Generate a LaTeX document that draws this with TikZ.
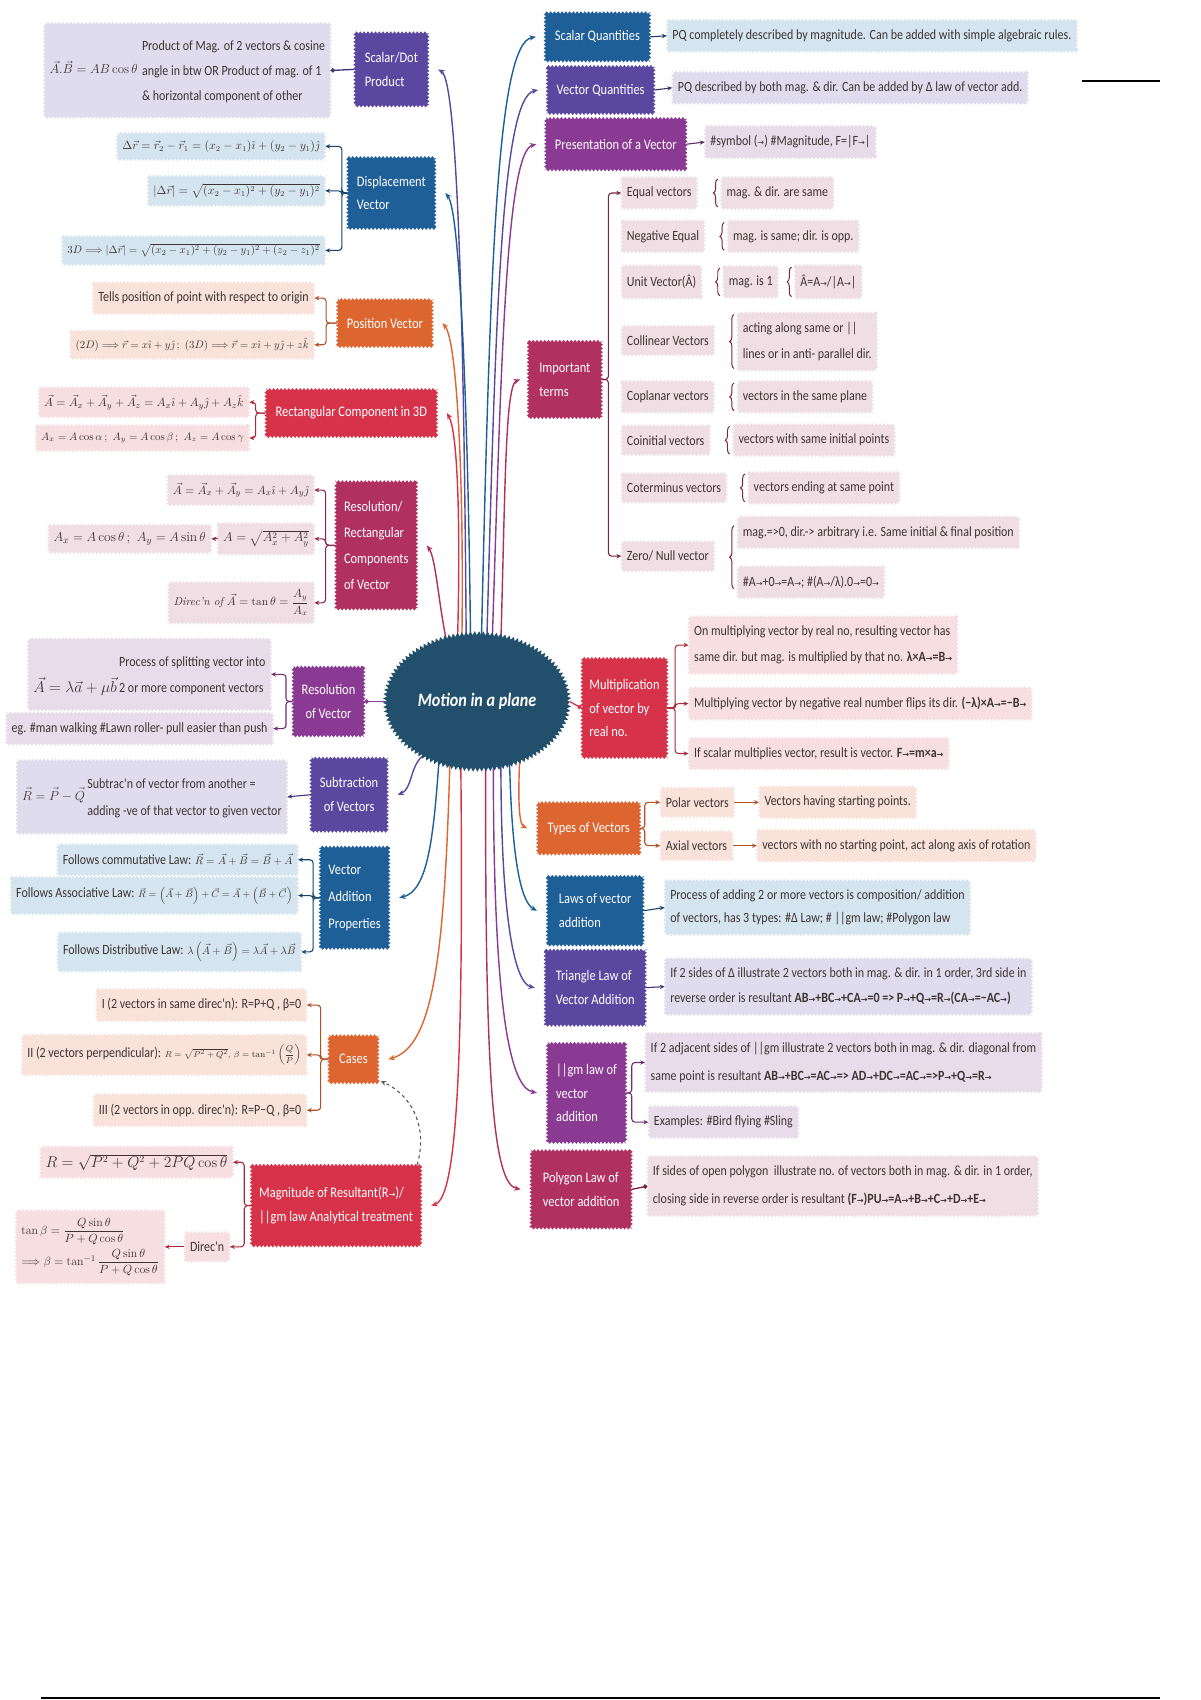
\documentclass[tikz,border=0pt]{standalone}
\usepackage{amsmath}
\usepackage{fontspec}
\usetikzlibrary{arrows.meta,decorations.pathmorphing,decorations.pathreplacing,shapes.geometric}
\newfontfamily\hand[FakeStretch=0.85]{Carlito}
\newfontfamily\symf{DejaVu Sans}
\newcommand\arr{{\symf\fontsize{7.5}{8}\selectfont\char"2192}}
\newcommand\mth[2]{{\fontsize{#1}{#1}\selectfont$#2$}}
\definecolor{cblue}{HTML}{1E5F98}
\definecolor{cindigo}{HTML}{5A48A0}
\definecolor{cpurple}{HTML}{8A3A92}
\definecolor{cmagenta}{HTML}{B03060}
\definecolor{cred}{HTML}{D6334A}
\definecolor{corange}{HTML}{DC6530}
\definecolor{ccenter}{HTML}{22506C}
\definecolor{lblue}{HTML}{D5E5F0}
\definecolor{lindigo}{HTML}{DFDDED}
\definecolor{lpurple}{HTML}{E9DCEA}
\definecolor{lmagenta}{HTML}{F0DEE5}
\definecolor{lred}{HTML}{F7DEE1}
\definecolor{lorange}{HTML}{F8E2D9}
\definecolor{txt}{HTML}{3E3434}
\pgfdeclarelayer{bg}
\pgfsetlayers{bg,main}
\tikzset{
  jag/.style={decorate,decoration={zigzag,segment length=3.5pt,amplitude=1.1pt}},
  hub/.style={ellipse,fill=ccenter,text=white,minimum width=170pt,minimum height=126pt,inner sep=0pt,decorate,decoration={zigzag,segment length=4pt,amplitude=1.8pt},font=\hand\bfseries\itshape\fontsize{17.5}{20}\selectfont},
  box/.style={jag,fill=#1,text=white,inner xsep=5pt,inner ysep=6pt,align=left,font=\hand\fontsize{13.5}{22}\selectfont},
  leaf/.style={jag,fill=#1,text=txt,inner xsep=5pt,inner ysep=9pt,align=left,font=\hand\fontsize{13}{24}\selectfont},
  fleaf/.style={leaf=#1,inner ysep=7pt,font=\fontsize{10.5}{13}\selectfont},
  hl/.style={draw=#1,line width=1.3pt,-{Stealth[length=6pt,width=5pt]}},
  bk/.style={draw=#1,line width=1pt,rounded corners=3pt,-{Stealth[length=4.5pt,width=4pt]}},
  dk/.style={draw=#1,line width=1.2pt,-{Circle[length=4pt]}},
  brc/.style={draw=#1,line width=0.9pt,decorate,decoration={brace,amplitude=4pt}},
}
\begin{document}
\begin{tikzpicture}[x=1pt,y=-1pt]
\useasboundingbox (0,0) rectangle (1107,1568);
\begin{pgfonlayer}{bg}
\fill[white] (0,0) rectangle (1107,1568);
\end{pgfonlayer}

% ---------- hub ----------
\node[hub] (c) at (440,647) {Motion in a plane};

% ---------- left side ----------
\node[box=cindigo,minimum width=68pt,minimum height=68pt] (sd) at (361,64) {Scalar/Dot\\Product};
\node[leaf=lindigo,anchor=east,minimum height=78pt] (sdl) at (305,65) {\mth{12}{\vec A.\vec B=AB\cos\theta}\hspace{4pt}{\fontsize{13}{23}\selectfont\begin{tabular}{@{}l@{}}Product of Mag. of 2 vectors \& cosine\\angle in btw OR Product of mag. of 1\\\& horizontal component of other\end{tabular}}};

\node[box=cblue,minimum width=81pt,minimum height=66pt] (dv) at (361,178) {Displacement\\Vector};
\node[fleaf=lblue,anchor=east] (d1) at (300,135) {$\Delta\vec r=\vec r_2-\vec r_1=(x_2-x_1)\hat\imath+(y_2-y_1)\hat\jmath$};
\node[fleaf=lblue,anchor=east] (d2) at (300,176) {$\left|\Delta\vec r\right|=\sqrt{(x_2-x_1)^2+(y_2-y_1)^2}$};
\node[fleaf=lblue,anchor=east,font=\fontsize{10}{12}\selectfont] (d3) at (300,231) {$3D\Longrightarrow\left|\Delta\vec r\right|=\sqrt{(x_2-x_1)^2+(y_2-y_1)^2+(z_2-z_1)^2}$};

\node[box=corange,minimum width=88pt,minimum height=44pt] (pv) at (355,298) {Position Vector};
\node[leaf=lorange,anchor=east] (p1) at (290,275) {Tells position of point with respect to origin};
\node[fleaf=lorange,anchor=east,font=\fontsize{10}{12}\selectfont] (p2) at (290,318) {$(2D)\Longrightarrow\vec r=x\hat\imath+y\hat\jmath\,;\ (3D)\Longrightarrow\vec r=x\hat\imath+y\hat\jmath+z\hat k$};

\node[box=cred,minimum width=158pt,minimum height=44pt] (r3) at (324,381) {Rectangular Component in 3D};
\node[fleaf=lred,anchor=east,font=\fontsize{11}{13}\selectfont] (r1) at (230,371) {$\vec A=\vec A_x+\vec A_y+\vec A_z=A_x\hat\imath+A_y\hat\jmath+A_z\hat k$};
\node[fleaf=lred,anchor=east,font=\fontsize{10}{12}\selectfont] (r2) at (230,404) {$A_x=A\cos\alpha\,;\ A_y=A\cos\beta\,;\ A_z=A\cos\gamma$};

\node[box=cmagenta,minimum width=75pt,minimum height=118pt,font=\hand\fontsize{13.5}{24}\selectfont] (rr) at (347,503) {Resolution/\\Rectangular\\Components\\of Vector};
\node[fleaf=lmagenta,anchor=east,font=\fontsize{11}{13}\selectfont] (rc1) at (290,452) {$\vec A=\vec A_x+\vec A_y=A_x\hat\imath+A_y\hat\jmath$};
\node[fleaf=lmagenta,anchor=east,font=\fontsize{11.5}{13}\selectfont] (rc2) at (290,497) {$A=\sqrt{A_x^2+A_y^2}$};
\node[fleaf=lmagenta,anchor=east,font=\fontsize{12.5}{15}\selectfont] (rc0) at (195,497) {$A_x=A\cos\theta\,;\ A_y=A\sin\theta$};
\node[fleaf=lmagenta,anchor=east] (rc3) at (290,556) {{\itshape Direc'n of} $\vec A=\tan\theta=\dfrac{A_y}{A_x}$};

\node[box=cpurple,minimum width=66pt,minimum height=64pt,align=center] (rv) at (303,647) {Resolution\\of Vector};
\node[leaf=lpurple,anchor=east] (rv1) at (250,622) {\mth{14}{\vec A=\lambda\vec a+\mu\vec b}\,{\fontsize{13}{24}\selectfont\begin{tabular}[b]{@{}l@{}}Process of splitting vector into\\2 or more component vectors\end{tabular}}};
\node[leaf=lpurple,anchor=east] (rv2) at (252,672) {eg. \#man walking \#Lawn roller- pull easier than push};

\node[box=cindigo,minimum width=71pt,minimum height=68pt,align=center] (sb) at (322,733) {Subtraction\\of Vectors};
\node[leaf=lindigo,anchor=east] (sbl) at (265,735) {\mth{12}{\vec R=\vec P-\vec Q}\,{\fontsize{13}{25}\selectfont\begin{tabular}{@{}l@{}}Subtrac'n of vector from another =\\adding -ve of that vector to given vector\end{tabular}}};

\node[box=cblue,minimum width=64pt,minimum height=94pt,font=\hand\fontsize{13.5}{25}\selectfont] (vap) at (327,828) {Vector\\Addition\\Properties};
\node[leaf=lblue,anchor=east] (v1) at (275,793) {Follows commutative Law: \mth{10}{\vec R=\vec A+\vec B=\vec B+\vec A}};
\node[leaf=lblue,anchor=east] (v2) at (275,826) {Follows Associative Law: \mth{9}{\vec R=\left(\vec A+\vec B\right)+\vec C=\vec A+\left(\vec B+\vec C\right)}};
\node[leaf=lblue,anchor=east] (v3) at (278,878) {Follows Distributive Law: \mth{10}{\lambda\left(\vec A+\vec B\right)=\lambda\vec A+\lambda\vec B}};

\node[box=corange,minimum width=46pt,minimum height=44pt] (cs) at (326,977) {Cases};
\node[leaf=lorange,anchor=east] (c1) at (283,927) {I (2 vectors in same direc'n): R=P+Q , β=0};
\node[leaf=lorange,anchor=east] (c2) at (283,973) {II (2 vectors perpendicular): \mth{8.5}{R=\sqrt{P^2+Q^2},\ \beta=\tan^{-1}\left(\dfrac{Q}{P}\right)}};
\node[leaf=lorange,anchor=east] (c3) at (283,1024) {III (2 vectors in opp. direc'n): R=P−Q , β=0};

\node[box=cred,minimum width=157pt,minimum height=75pt] (mg) at (310,1112) {Magnitude of Resultant(R\arr)/\\||gm law Analytical treatment};
\node[fleaf=lred,anchor=east,font=\fontsize{13.5}{15}\selectfont] (m1) at (215,1072) {$R=\sqrt{P^2+Q^2+2PQ\cos\theta}$};
\node[leaf=lred,anchor=east] (m2) at (212,1150) {Direc'n};
\node[fleaf=lred,anchor=east,font=\fontsize{11}{13}\selectfont] (m3) at (152,1150) {$\begin{array}{@{}l@{}}\tan\beta=\dfrac{Q\sin\theta}{P+Q\cos\theta}\\[10pt]\Longrightarrow\beta=\tan^{-1}\dfrac{Q\sin\theta}{P+Q\cos\theta}\end{array}$};

% ---------- right side ----------
\node[box=cblue,minimum width=97pt,minimum height=45pt] (sq) at (551,34) {Scalar Quantities};
\node[leaf=lblue,anchor=west] (sql) at (615,33) {PQ completely described by magnitude. Can be added with simple algebraic rules.};
\node[box=cindigo,minimum width=99pt,minimum height=44pt] (vq) at (554,83) {Vector Quantities};
\node[leaf=lindigo,anchor=west] (vql) at (620,81) {PQ described by both mag. \& dir. Can be added by Δ law of vector add.};
\node[box=cpurple,minimum width=130pt,minimum height=48pt] (pr) at (568,133) {Presentation of a Vector};
\node[leaf=lpurple,anchor=west] (prl) at (650,131) {\#symbol (\arr) \#Magnitude, F=|F\arr|};

\node[box=cmagenta,minimum width=68pt,minimum height=71pt] (it) at (521,350) {Important\\terms};
\node[leaf=lmagenta,anchor=west] (eq) at (573,178) {Equal vectors};
\node[leaf=lmagenta,anchor=west] (eqd) at (665,178) {mag. \& dir. are same};
\node[leaf=lmagenta,anchor=west] (ne) at (573,218) {Negative Equal};
\node[leaf=lmagenta,anchor=west] (ned) at (671,218) {mag. is same; dir. is opp.};
\node[leaf=lmagenta,anchor=west] (uv) at (573,260) {Unit Vector(Â)};
\node[leaf=lmagenta,anchor=west] (uvd) at (667,260) {mag. is 1};
\node[leaf=lmagenta,anchor=west] (uvf) at (733,260) {Â=A\arr/|A\arr|};
\node[leaf=lmagenta,anchor=west] (co) at (573,314) {Collinear Vectors};
\node[leaf=lmagenta,anchor=west] (cod) at (680,315) {acting along same or ||\\lines or in anti- parallel dir.};
\node[leaf=lmagenta,anchor=west] (cp) at (573,366) {Coplanar vectors};
\node[leaf=lmagenta,anchor=west] (cpd) at (680,366) {vectors in the same plane};
\node[leaf=lmagenta,anchor=west] (ci) at (573,406) {Coinitial vectors};
\node[leaf=lmagenta,anchor=west] (cid) at (676,406) {vectors with same initial points};
\node[leaf=lmagenta,anchor=west] (ct) at (573,450) {Coterminus vectors};
\node[leaf=lmagenta,anchor=west] (ctd) at (690,450) {vectors ending at same point};
\node[leaf=lmagenta,anchor=west] (zn) at (573,513) {Zero/ Null vector};
\node[leaf=lmagenta,anchor=west] (zn1) at (680,491) {mag.=>0, dir.-> arbitrary i.e. Same initial \& final position};
\node[leaf=lmagenta,anchor=west] (zn2) at (680,537) {\#A\arr+0\arr=A\arr; \#(A\arr/λ).0\arr=0\arr};

\node[box=cred,minimum width=79pt,minimum height=92pt] (mu) at (576,653) {Multiplication\\of vector by\\real no.};
\node[leaf=lred,anchor=west] (mu1) at (635,595) {On multiplying vector by real no, resulting vector has\\same dir. but mag. is multiplied by that no. \textbf{λ×A\arr=B\arr}};
\node[leaf=lred,anchor=west] (mu2) at (635,649) {Multiplying vector by negative real number flips its dir. \textbf{(−λ)×A\arr=−B\arr}};
\node[leaf=lred,anchor=west] (mu3) at (635,695) {If scalar multiplies vector, result is vector. \textbf{F\arr=m×a\arr}};

\node[box=corange,minimum width=95pt,minimum height=48pt] (tv) at (543,764) {Types of Vectors};
\node[leaf=lorange,anchor=west] (t1) at (609,740) {Polar vectors};
\node[leaf=lorange,anchor=west] (t1d) at (700,740) {Vectors having starting points.};
\node[leaf=lorange,anchor=west] (t2) at (609,780) {Axial vectors};
\node[leaf=lorange,anchor=west] (t2d) at (698,780) {vectors with no starting point, act along axis of rotation};

\node[box=cblue,minimum width=89pt,minimum height=64pt] (lw) at (549,840) {Laws of vector\\addition};
\node[leaf=lblue,anchor=west,font=\hand\fontsize{13}{21}\selectfont] (lwl) at (613,837) {Process of adding 2 or more vectors is composition/ addition\\of vectors, has 3 types: \#Δ Law; \# ||gm law; \#Polygon law};
\node[box=cindigo,minimum width=93pt,minimum height=70pt] (tr) at (549,911) {Triangle Law of\\Vector Addition};
\node[leaf=lindigo,anchor=west,font=\hand\fontsize{13}{23}\selectfont] (trl) at (613,910) {If 2 sides of Δ illustrate 2 vectors both in mag. \& dir. in 1 order, 3rd side in\\reverse order is resultant \textbf{AB\arr+BC\arr+CA\arr=0 => P\arr+Q\arr=R\arr(CA\arr=−AC\arr)}};
\node[box=cpurple,minimum width=73pt,minimum height=92pt] (gl) at (541,1008) {||gm law of\\vector\\addition};
\node[leaf=lpurple,anchor=west,font=\hand\fontsize{13}{25}\selectfont] (g1) at (595,980) {If 2 adjacent sides of ||gm illustrate 2 vectors both in mag. \& dir. diagonal from\\same point is resultant \textbf{AB\arr+BC\arr=AC\arr => AD\arr+DC\arr=AC\arr =>P\arr+Q\arr=R\arr}};
\node[leaf=lpurple,anchor=west] (g2) at (598,1035) {Examples: \#Bird flying \#Sling};
\node[box=cmagenta,minimum width=93pt,minimum height=72pt] (pg) at (536,1097) {Polygon Law of\\vector addition};
\node[leaf=lmagenta,anchor=west,font=\hand\fontsize{13}{26}\selectfont] (pgl) at (597,1094) {If sides of open polygon\ \ illustrate no. of vectors both in mag. \& dir. in 1 order,\\closing side in reverse order is resultant \textbf{(F\arr)PU\arr=A\arr+B\arr+C\arr+D\arr+E\arr}};

% stray black lines
\coordinate (la) at (998,75); \coordinate (lb) at (1070,75);
\draw[line width=2pt] (la) -- (lb);
\coordinate (lc) at (38,1566); \coordinate (ld) at (1070,1566);
\draw[line width=1.5pt] (lc) -- (ld);

% ---------- connectors ----------
\begin{pgfonlayer}{bg}
\draw[hl=cindigo] ([xshift=-10pt,yshift=-8pt]c.north) .. controls (428,300) and (422,75) .. ([xshift=9pt]sd.east);
\draw[hl=cblue] ([xshift=-6pt,yshift=-8pt]c.north) .. controls (432,400) and (425,195) .. ([xshift=9pt]dv.east);
\draw[hl=corange] ([xshift=-14pt,yshift=-8pt]c.north) .. controls (428,450) and (422,315) .. ([xshift=9pt]pv.east);
\draw[hl=cred] ([xshift=-18pt,yshift=-8pt]c.north) .. controls (425,480) and (422,398) .. ([xshift=9pt]r3.east);
\draw[hl=cmagenta] ([xshift=-28pt,yshift=-8pt]c.north) .. controls (405,560) and (402,515) .. ([xshift=9pt]rr.east);
\draw[dk=cpurple] (c.west) -- (rv.east);
\draw[hl=cblue] ([xshift=4pt,yshift=-8pt]c.north) .. controls (452,250) and (458,40) .. ([xshift=-8pt]sq.west);
\draw[hl=cindigo] ([xshift=9pt,yshift=-8pt]c.north) .. controls (457,300) and (462,90) .. ([xshift=-8pt]vq.west);
\draw[hl=cpurple] ([xshift=14pt,yshift=-8pt]c.north) .. controls (462,350) and (466,140) .. ([xshift=-8pt]pr.west);
\draw[hl=cmagenta] ([xshift=22pt,yshift=-8pt]c.north) .. controls (466,450) and (466,355) .. ([xshift=-7pt]it.west);
\draw[dk=cred] (c.east) -- (mu.west);
\draw[hl=cindigo] (c.225) .. controls (378,708) and (380,728) .. ([xshift=9pt]sb.east);
\draw[hl=cblue] ([xshift=-35pt,yshift=10pt]c.south) .. controls (400,770) and (395,822) .. ([xshift=9pt]vap.east);
\draw[hl=corange] ([xshift=-25pt,yshift=8pt]c.south) .. controls (410,880) and (400,965) .. ([xshift=9pt]cs.east);
\draw[hl=cred] ([xshift=-15pt,yshift=8pt]c.south) .. controls (428,1000) and (420,1105) .. ([xshift=9pt]mg.east);
\draw[hl=cmagenta] ([xshift=8pt,yshift=8pt]c.south) .. controls (447,1000) and (455,1092) .. ([xshift=-9pt]pg.west);
\draw[hl=cpurple] ([xshift=15pt,yshift=8pt]c.south) .. controls (455,930) and (470,1003) .. ([xshift=-9pt]gl.west);
\draw[hl=cindigo] ([xshift=22pt,yshift=8pt]c.south) .. controls (462,850) and (475,907) .. ([xshift=-9pt]tr.west);
\draw[hl=cblue] ([xshift=30pt,yshift=8pt]c.south) .. controls (472,790) and (480,832) .. ([xshift=-9pt]lw.west);
\draw[hl=corange] (c.-55) .. controls (478,730) and (478,760) .. ([xshift=-9pt]tv.west);
\draw[dashed,line width=1pt,draw=black!65,-{Stealth[length=5pt,width=4.5pt]}] ([xshift=-4pt]mg.north east) .. controls (395,1040) and (380,1010) .. ([xshift=2pt,yshift=2pt]cs.south east);
\end{pgfonlayer}

% brackets, left
\draw[dk=cindigo!70!black] (sd.west) -- (sdl.east);
\foreach \t in {d1,d2,d3} \draw[bk=cblue!70!black] (dv.west) -- ++(-5,0) |- (\t.east);
\foreach \t in {p1,p2} \draw[bk=corange!80!black] (pv.west) -- ++(-10,0) |- (\t.east);
\foreach \t in {r1,r2} \draw[bk=cred!80!black] (r3.west) -- ++(-9,0) |- (\t.east);
\foreach \t in {rc1,rc2,rc3} \draw[bk=cmagenta!80!black] (rr.west) -- ++(-9,0) |- (\t.east);
\draw[bk=cmagenta!80!black] (rc2.west) -- (rc0.east);
\foreach \t in {rv1,rv2} \draw[bk=cpurple!80!black] (rv.west) -- ++(-6,0) |- (\t.east);
\draw[bk=cindigo!70!black] (sb.west) -- (sbl.east);
\foreach \t in {v1,v2,v3} \draw[bk=cblue!70!black] (vap.west) -- ++(-6,0) |- (\t.east);
\foreach \t in {c1,c2,c3} \draw[bk=corange!80!black] (cs.west) -- ++(-7,0) |- (\t.east);
\foreach \t in {m1,m2} \draw[bk=cred!80!black] (mg.west) -- ++(-6,0) |- (\t.east);
\draw[bk=cred!80!black] (m2.west) -- (m3.east);

% brackets, right
\draw[bk=cblue!70!black] (sq.east) -- (sql.west);
\draw[bk=cindigo!70!black] (vq.east) -- (vql.west);
\draw[bk=cpurple!70!black] (pr.east) -- (prl.west);
\foreach \t in {eq,zn} \draw[bk=cmagenta!70!black] (it.east) -- ++(6,0) |- (\t.west);
\foreach \t in {eqd,ned,uvd,uvf,cod,cpd,cid,ctd}
  \draw[brc=cmagenta!70!black] ([xshift=-3pt,yshift=2pt]\t.south west) -- ([xshift=-3pt,yshift=-2pt]\t.north west);
\draw[brc=cmagenta!70!black] ([xshift=-3pt,yshift=-6pt]zn2.west) -- ([xshift=-3pt,yshift=6pt]zn1.west);
\foreach \t in {mu1,mu2,mu3} \draw[bk=cred!80!black] (mu.east) -- ++(7,0) |- (\t.west);
\foreach \t in {t1,t2} \draw[bk=corange!80!black] (tv.east) -- ++(4,0) |- (\t.west);
\draw[bk=corange!80!black] (t1.east) -- (t1d.west);
\draw[bk=corange!80!black] (t2.east) -- (t2d.west);
\draw[bk=cblue!70!black] (lw.east) -- (lwl.west);
\draw[bk=cindigo!70!black] (tr.east) -- (trl.west);
\foreach \t in {g1,g2} \draw[bk=cpurple!80!black] (gl.east) -- ++(5,0) |- (\t.west);
\draw[dk=cmagenta!70!black] (pg.east) -- (pgl.west);
\end{tikzpicture}
\end{document}
